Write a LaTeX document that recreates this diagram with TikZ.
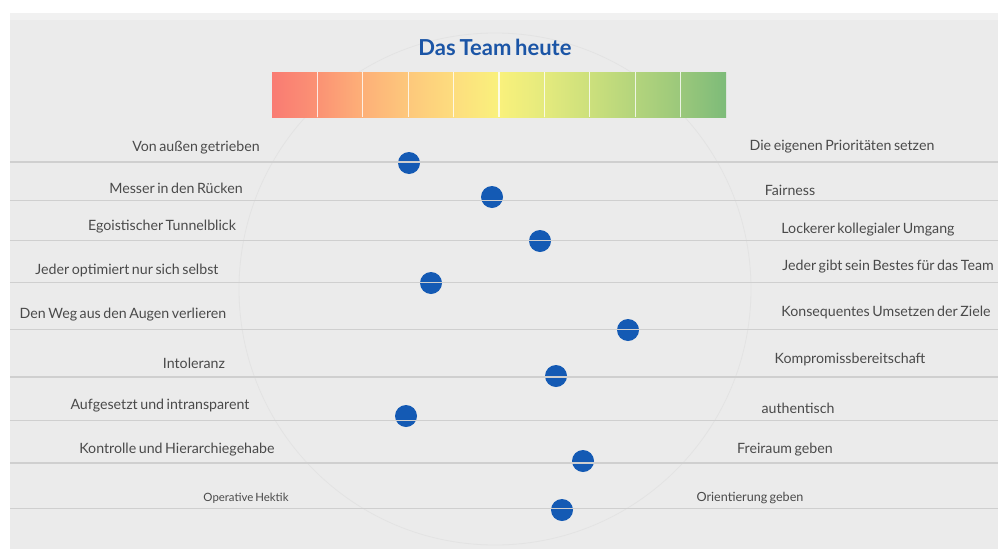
\documentclass[tikz,border=0pt]{standalone}
\usepackage{fontspec}
\setmainfont{Lato}[WordSpace=0.7]
\begin{document}
\begin{tikzpicture}[x=1pt,y=-1pt,
  lbl/.style={inner sep=0pt, text=txtgray, font=\fontsize{14.2}{16}\selectfont},
  lblsmall/.style={inner sep=0pt, text=txtgray, font=\fontsize{11.4}{13}\selectfont},
  dot/.style={circle, fill=dotblue, minimum size=22pt, inner sep=0pt},
  rowline/.style={draw=linegray, line width=1.3pt},
  sep/.style={draw=white, line width=1.2pt, opacity=0.8}]
\definecolor{bg}{HTML}{EBEBEB}
\definecolor{bgtop}{HTML}{F1F1F1}
\definecolor{linegray}{HTML}{CFCFCF}
\definecolor{txtgray}{HTML}{4A4A4A}
\definecolor{dotblue}{HTML}{145AB4}
\definecolor{titleblue}{HTML}{1B55A6}
\definecolor{globe}{HTML}{E3E3E3}
\definecolor{c0}{HTML}{F97B73}
\definecolor{c1}{HTML}{FB9274}
\definecolor{c2}{HTML}{FDB078}
\definecolor{c3}{HTML}{FDC87C}
\definecolor{c4}{HTML}{FDDD7E}
\definecolor{c5}{HTML}{F9F17C}
\definecolor{c6}{HTML}{E4EA7D}
\definecolor{c7}{HTML}{CCE07C}
\definecolor{c8}{HTML}{B3D47C}
\definecolor{c9}{HTML}{9BC87B}
\definecolor{c10}{HTML}{7DBB79}
\useasboundingbox (0,0) rectangle (998,549);
\fill[white] (0,0) rectangle (998,549);
\fill[bg] (10,13) rectangle (998,549);
\fill[bgtop] (10,13) rectangle (998,20);
% faint globe
\draw[globe, line width=0.8pt] (495,289) circle (256);
% title
\node[inner sep=0pt, text=titleblue, font=\fontsize{22}{25}\selectfont\bfseries] (title) at (495,47) {Das Team heute};
% gradient bar
\foreach \i/\a/\b in {0/c0/c1,1/c1/c2,2/c2/c3,3/c3/c4,4/c4/c5,5/c5/c6,6/c6/c7,7/c7/c8,8/c8/c9,9/c9/c10}{
  \shade[left color=\a, right color=\b] ({272+45.4*\i},72) rectangle ({272+45.4*(\i+1)},117);
}
\foreach \i in {1,...,9}{
  \draw[sep] ({272+45.4*\i},72) -- ({272+45.4*\i},117);
}
% dots
\node[dot] (d1) at (409,163) {};
\node[dot] (d2) at (492,197) {};
\node[dot] (d3) at (540,241) {};
\node[dot] (d4) at (431,283) {};
\node[dot] (d5) at (628,330) {};
\node[dot] (d6) at (556,376) {};
\node[dot] (d7) at (406,416) {};
\node[dot] (d8) at (583,461) {};
\node[dot] (d9) at (562,510) {};
% row lines
\foreach \n/\y in {1/162,2/200.5,3/240.5,4/282.5,5/329.5,6/377,7/420.5,8/463,9/508.5}{
  \coordinate (l\n) at (10,\y);
  \coordinate (r\n) at (998,\y);
  \draw[rowline] (l\n) -- (r\n);
}
% left labels
\node[lbl] (a1) at (196,148) {Von außen getrieben};
\node[lbl] (a2) at (176,188) {Messer in den Rücken};
\node[lbl] (a3) at (162,227) {Egoistischer Tunnelblick};
\node[lbl] (a4) at (127,270) {Jeder optimiert nur sich selbst};
\node[lbl] (a5) at (123,315) {Den Weg aus den Augen verlieren};
\node[lbl] (a6) at (194,363) {Intoleranz};
\node[lbl] (a7) at (160,406) {Aufgesetzt und intransparent};
\node[lbl] (a8) at (177,450) {Kontrolle und Hierarchiegehabe};
\node[lblsmall] (a9) at (246,498) {Operative Hektik};
% right labels
\node[lbl] (b1) at (842,147) {Die eigenen Prioritäten setzen};
\node[lbl] (b2) at (790,190) {Fairness};
\node[lbl] (b3) at (868,230) {Lockerer kollegialer Umgang};
\node[lbl] (b4) at (888,267) {Jeder gibt sein Bestes für das Team};
\node[lbl] (b5) at (886,312) {Konsequentes Umsetzen der Ziele};
\node[lbl] (b6) at (850,359) {Kompromissbereitschaft};
\node[lbl] (b7) at (798,408) {authentisch};
\node[lbl] (b8) at (785,450) {Freiraum geben};
\node[lblsmall, font=\fontsize{12.6}{14}\selectfont] (b9) at (750,498) {Orientierung geben};
\end{tikzpicture}
\end{document}
